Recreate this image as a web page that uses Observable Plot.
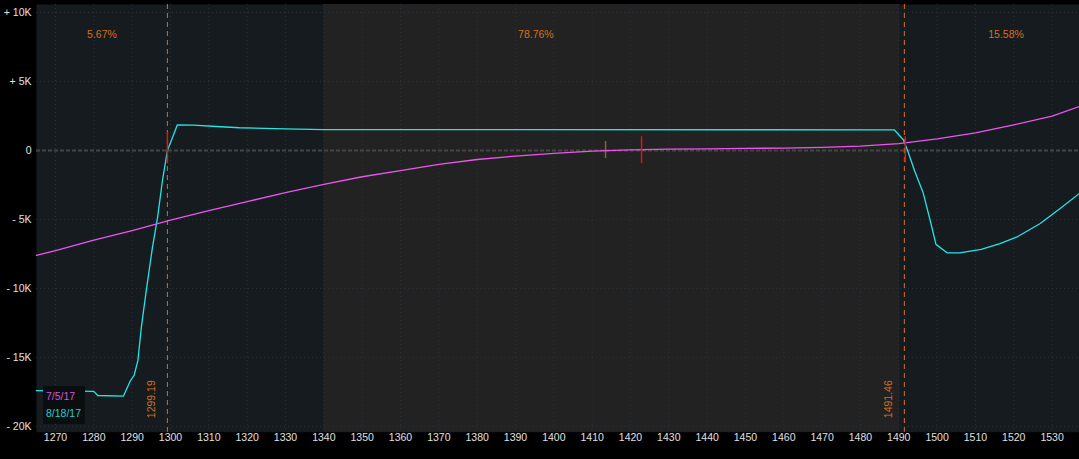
<!DOCTYPE html>
<html><head><meta charset="utf-8">
<script src="https://cdn.jsdelivr.net/npm/d3@7"></script>
<script src="https://cdn.jsdelivr.net/npm/@observablehq/plot@0.6"></script>
<style>
html,body{margin:0;padding:0;background:#000;}
#wrap{position:relative;width:1079px;height:459px;overflow:hidden;background:#000;}
#legend{position:absolute;left:43px;top:386px;width:42px;height:38px;background:#0b0e11;font:10.5px "Liberation Sans",sans-serif;line-height:17px;padding:2px 0 0 3px;box-sizing:border-box;}
</style></head><body><div id="wrap"></div>
<script>
// ---- data ----
const seriesNames = ["7/5/17", "8/18/17"];
// 7/5/17 P&L (thousands of $)
const magX = [1265,1270,1280,1290,1300,1310,1320,1330,1340,1350,1360,1370,1380,1390,1400,1410,1420,1430,1440,1450,1460,1470,1480,1490,1500,1510,1520,1530,1537.2];
const magY = [-7.6,-7.25,-6.5,-5.8,-5.05,-4.35,-3.7,-3.05,-2.45,-1.9,-1.45,-1.0,-0.65,-0.4,-0.2,-0.05,0.05,0.1,0.12,0.15,0.18,0.23,0.32,0.5,0.85,1.28,1.86,2.5,3.2];
// 8/18/17 P&L (thousands of $)
const cyanX = [1265,1280,1281,1287.7,1289.5,1290.5,1291.5,1292.4,1293.7,1295.3,1296.6,1297.9,1299.2,1301.8,1306,1312,1318,1330,1340,1488.8,1491.2,1492.3,1494.1,1496.4,1498.2,1499.7,1502.6,1505.9,1511.5,1516.4,1520.7,1526.9,1532.1,1537.2];
const cyanY = [-17.4,-17.45,-17.75,-17.8,-16.7,-16.3,-15.2,-12.8,-10.1,-7.0,-4.9,-2.17,0,1.86,1.84,1.74,1.65,1.57,1.52,1.5,0.78,0,-1.45,-3.1,-5.07,-6.8,-7.41,-7.41,-7.17,-6.74,-6.28,-5.29,-4.2,-3.09];
const breakEvens = [1299.19, 1491.46];
const probLabels = ["5.67%", "78.76%", "15.58%"];
const grayBand = [1340, 1490.2];
const xTicks = [1270,1280,1290,1300,1310,1320,1330,1340,1350,1360,1370,1380,1390,1400,1410,1420,1430,1440,1450,1460,1470,1480,1490,1500,1510,1520,1530,1540];
const yTicks = [10, 5, 0, -5, -10, -15, -20];
const yTickLabels = ["+ 10K", "+ 5K", "0", "- 5K", "- 10K", "- 15K", "- 20K"];
const redMarks = [{x: 1299.2, lo: -0.96, hi: 1.3}, {x: 1422.9, lo: -0.95, hi: 1.0}, {x: 1491.7, lo: -0.9, hi: 1.0}];
const brownMarks = [{x: 1413.5, lo: -0.58, hi: 0.65}];

// ---- build ----
const xDomain = [1265.04, 1537.15];
const yDomain = [-20.41, 10.58];
const mag = magX.map((x, i) => ({x, y: magY[i]}));
const cyan = cyanX.map((x, i) => ({x, y: cyanY[i]}));
const ends = [xDomain[0], ...breakEvens, 1544.5];
const pct = probLabels.map((t, i) => ({t, x: (ends[i] + ends[i + 1]) / 2}));
const yt = yTicks.map((v, i) => ({v, t: yTickLabels[i]}));
const orange = "#d4701e";

const chart = Plot.plot({
  width: 1079, height: 459,
  marginLeft: 36, marginRight: 0, marginTop: 4, marginBottom: 27.3,
  x: {domain: xDomain, axis: null},
  y: {domain: yDomain, axis: null},
  style: {background: "#000", color: "#ddd", fontFamily: "Liberation Sans, sans-serif", fontSize: "10.5px"},
  marks: [
    Plot.frame({fill: "#161b1f"}),
    Plot.rect([grayBand], {x1: d => d[0], x2: d => d[1], fill: "#222222"}),
    Plot.ruleX(xTicks.filter(d => d < xDomain[1]), {stroke: "#2c3237", strokeDasharray: "1,3"}),
    Plot.ruleY(yTicks.filter(d => d !== 0), {stroke: "#2c3237", strokeDasharray: "1,3"}),
    Plot.ruleY([0], {stroke: "#454545", strokeWidth: 2, strokeDasharray: "4,2"}),
    Plot.ruleX(breakEvens, {stroke: orange, strokeDasharray: "5,4"}),
    Plot.ruleX(brownMarks, {x: "x", y1: "lo", y2: "hi", stroke: "#7d6a30", strokeWidth: 1.5}),
    Plot.line(cyan, {x: "x", y: "y", stroke: "#22e6e6", strokeWidth: 1.3}),
    Plot.line(mag, {x: "x", y: "y", stroke: "#ee55ee", strokeWidth: 1.3}),
    Plot.ruleX(redMarks, {x: "x", y1: "lo", y2: "hi", stroke: "#e81010", strokeWidth: 1.5}),
    Plot.text(pct, {x: "x", text: "t", frameAnchor: "top", dy: 26, fill: orange}),
    Plot.text(breakEvens, {x: d => d, text: d => d.toFixed(2), rotate: -90, frameAnchor: "bottom", textAnchor: "start", dy: -14, dx: -12, fill: orange}),
    Plot.text(xTicks, {x: d => d, text: d => String(d), frameAnchor: "bottom", dy: 9, fill: "#e0e0e0"}),
    Plot.text(yt, {y: "v", text: "t", frameAnchor: "left", textAnchor: "end", dx: -5, fill: "#e0e0e0"})
  ]
});
const wrap = document.getElementById("wrap");
wrap.appendChild(chart);
const lg = document.createElement("div");
lg.id = "legend";
lg.innerHTML = `<div style="color:#d455d4">${seriesNames[0]}</div><div style="color:#22cccc">${seriesNames[1]}</div>`;
wrap.appendChild(lg);
</script>
</body></html>
